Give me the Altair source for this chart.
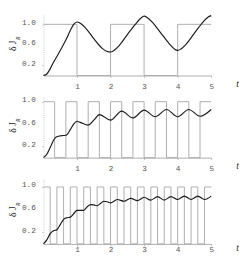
import altair as alt
import pandas as pd

# ---- panel 1 (half-period 1) ----
t1 = [0, 0.1, 0.2, 0.3, 0.4, 0.5, 0.6, 0.7, 0.8, 0.9, 1.0, 1.1, 1.25, 1.5, 1.75, 1.9, 2.0,
      2.1, 2.25, 2.5, 2.75, 2.9, 3.0, 3.1, 3.25, 3.5, 3.75, 3.9, 4.0, 4.1, 4.25, 4.5, 4.75, 4.9, 5.0]
v1 = [0, 0.03, 0.13, 0.26, 0.37, 0.49, 0.61, 0.74, 0.88, 1.0, 1.045, 1.02, 0.93, 0.72, 0.53, 0.47, 0.46,
      0.49, 0.58, 0.80, 1.01, 1.12, 1.16, 1.13, 1.04, 0.83, 0.62, 0.52, 0.49, 0.52, 0.61, 0.83, 1.04, 1.14, 1.17]
sq1_t = [0, 1, 2, 3, 4, 5]
sq1_v = [1, 0, 1, 0, 1, 1]

# ---- panel 2 (half-period 1/3) ----
t2 = [0, 0.1, 0.2, 0.3, 0.38, 0.5, 0.67, 0.8, 0.9, 1.0, 1.1, 1.33, 1.5, 1.67, 2.0, 2.33, 2.67,
      3.0, 3.33, 3.67, 4.0, 4.33, 4.67, 5.0]
v2 = [0, 0.06, 0.18, 0.31, 0.37, 0.39, 0.40, 0.50, 0.60, 0.65, 0.63, 0.58, 0.67, 0.77, 0.67, 0.83, 0.71,
      0.85, 0.73, 0.86, 0.73, 0.86, 0.74, 0.86]
sq2_t = [0, 0.333, 0.667, 1.0, 1.333, 1.667, 2.0, 2.333, 2.667, 3.0, 3.333, 3.667, 4.0, 4.333, 4.667, 5.0]
sq2_v = [1, 0, 1, 0, 1, 0, 1, 0, 1, 0, 1, 0, 1, 0, 1, 1]

# ---- panel 3 (half-period 0.2) ----
t3 = [0, 0.1, 0.2, 0.3, 0.4, 0.5, 0.6, 0.7, 0.8, 0.9, 1.0, 1.1, 1.2, 1.3, 1.4, 1.5, 1.6, 1.7, 1.8, 1.9,
      2.0, 2.2, 2.4, 2.6, 2.8, 3.0, 3.2, 3.4, 3.6, 3.8, 4.0, 4.2, 4.4, 4.6, 4.8, 5.0]
v3 = [0, 0.07, 0.18, 0.23, 0.25, 0.34, 0.43, 0.46, 0.47, 0.53, 0.59, 0.59, 0.59, 0.65, 0.69, 0.685, 0.67,
      0.71, 0.75, 0.74, 0.72, 0.78, 0.75, 0.80, 0.76, 0.82, 0.77, 0.83, 0.77, 0.83, 0.78, 0.84, 0.78, 0.84,
      0.78, 0.84]
sq3_t = [0, 0.2, 0.4, 0.6, 0.8, 1.0, 1.2, 1.4, 1.6, 1.8, 2.0, 2.2, 2.4, 2.6, 2.8, 3.0, 3.2, 3.4, 3.6,
         3.8, 4.0, 4.2, 4.4, 4.6, 4.8, 5.0]
sq3_v = [1, 0, 1, 0, 1, 0, 1, 0, 1, 0, 1, 0, 1, 0, 1, 0, 1, 0, 1, 0, 1, 0, 1, 0, 1, 1]

x_ticks = [1, 2, 3, 4, 5]
y_ticks = [0.2, 0.6, 1.0]


def panel(t, v, st, sv, h, ytop, lab_pad, t_y, r_y):
    xax = alt.Axis(values=x_ticks, format="d", labelFont="Liberation Mono", labelFontSize=8,
                   labelColor="#555", labelPadding=lab_pad, labelFlush=False, labelOverlap=False,
                   tickSize=2, tickColor="#bbb", domainColor="#aaa", domainWidth=1, grid=False,
                   title="t", titleFont="Liberation Serif", titleFontStyle="italic",
                   titleFontWeight="normal", titleFontSize=10, titleColor="#222",
                   titleX=202, titleY=t_y, titleBaseline="middle", titleAlign="center")
    yax = alt.Axis(values=y_ticks, labels=False, tickSize=2, tickColor="#ccc",
                   domainColor="#ccc", domainDash=[1, 1], grid=False,
                   title="δ J", titleFont="Liberation Serif", titleFontWeight="normal",
                   titleFontSize=10, titleColor="#222", titleX=-27, titleAnchor="middle")
    xs = alt.Scale(domain=[0, 5], nice=False, zero=False)
    ys = alt.Scale(domain=[0, ytop], nice=False)
    sq = alt.Chart(pd.DataFrame({"t": st, "v": sv})).mark_line(
        interpolate="step-after", color="#ababab", strokeWidth=1
    ).encode(x=alt.X("t:Q", scale=xs, axis=xax), y=alt.Y("v:Q", scale=ys, axis=yax))
    cv = alt.Chart(pd.DataFrame({"t": t, "v": v})).mark_line(
        interpolate="monotone", color="#1a1a1a", strokeWidth=1.2
    ).encode(x="t:Q", y="v:Q")
    ylab = alt.Chart(pd.DataFrame({"v": y_ticks})).mark_text(
        align="right", baseline="middle", font="Liberation Mono", fontSize=8, color="#555", dy=-1.5
    ).encode(x=alt.value(-8), y=alt.Y("v:Q"), text=alt.Text("v:Q", format=".1f"))
    r = alt.Chart(pd.DataFrame({"a": [0]})).mark_text(
        text="R", angle=270, font="Liberation Serif", fontStyle="italic", fontSize=6, color="#222"
    ).encode(x=alt.value(-26.5), y=alt.value(r_y))
    return alt.layer(sq, cv, ylab, r).properties(width=175, height=h)


p1 = panel(t1, v1, sq1_t, sq1_v, 63, 1.18, 6, 9, 24)
p2 = panel(t2, v2, sq2_t, sq2_v, 64, 1.096, 5.5, 8.3, 25)
p3 = panel(t3, v3, sq3_t, sq3_v, 68.3, 1.15, 0, 4.3, 27)

chart = alt.vconcat(p1, p2, p3, spacing=21.7, bounds="flush").properties(
    padding={"left": 0, "top": 0, "right": 0, "bottom": 0}
).configure_view(stroke=None)

chart.save("out.html", embed_options={"renderer": "svg", "actions": False})
